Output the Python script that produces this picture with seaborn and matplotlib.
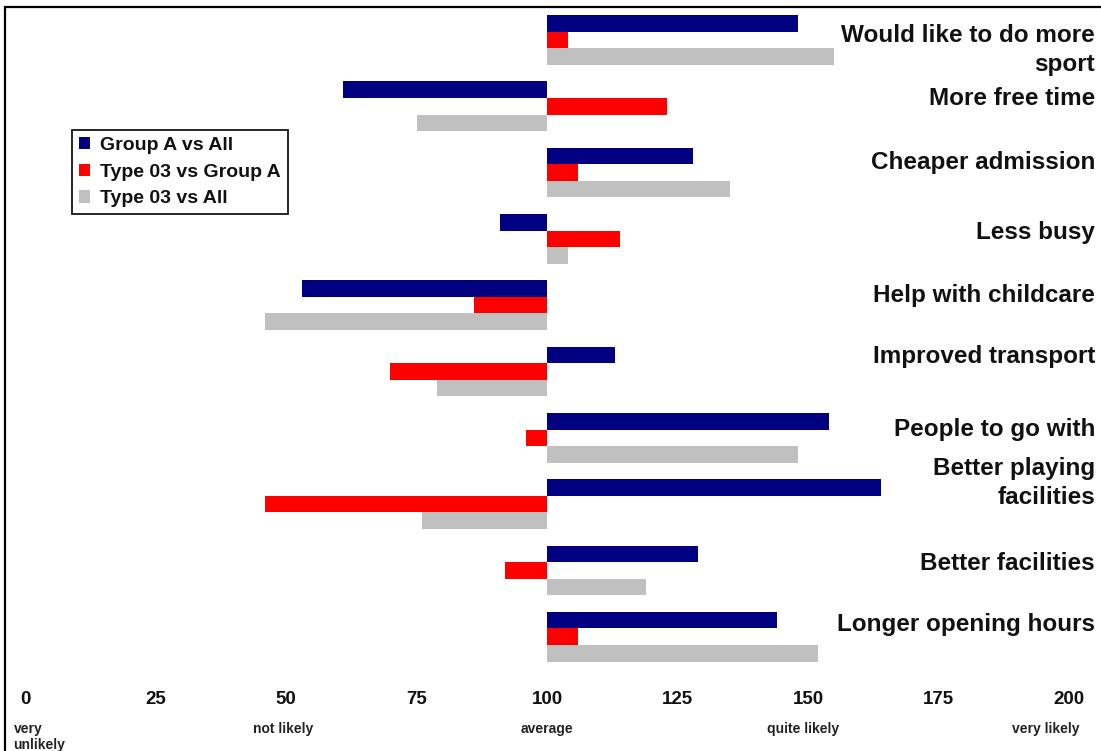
import matplotlib
matplotlib.use("Agg")
import matplotlib.pyplot as plt
import matplotlib.transforms as mtransforms
from matplotlib.lines import Line2D
from matplotlib.patches import Rectangle
import pandas as pd
import seaborn as sns

# ---- data -------------------------------------------------------------
categories = [
    "Would like to do more\nsport",
    "More free time",
    "Cheaper admission",
    "Less busy",
    "Help with childcare",
    "Improved transport",
    "People to go with",
    "Better playing\nfacilities",
    "Better facilities",
    "Longer opening hours",
]
series_names = ["Group A vs All", "Type 03 vs Group A", "Type 03 vs All"]
group_a_vs_all = [148, 61, 128, 91, 53, 113, 154, 164, 129, 144]
type03_vs_group_a = [104, 123, 106, 114, 86, 70, 96, 46, 92, 106]
type03_vs_all = [155, 75, 135, 104, 46, 79, 148, 76, 119, 152]

x_ticks = [0, 25, 50, 75, 100, 125, 150, 175, 200]
likelihood_labels = ["very\nunlikely", "not likely", "average", "quite likely", "very likely"]
likelihood_at = [0, 50, 100, 150, 200]
baseline = 100

# ---- style ------------------------------------------------------------
colors = ["#000080", "#FF0000", "#C0C0C0"]
label_nudge = [0.15, -0.125, -0.145, -0.10, -0.14, -0.23, -0.12, -0.32, -0.10, -0.18]
likelihood_x = [-2.2, 49.5, 100, 149, 195.5]
likelihood_ha = ["left", "center", "center", "center", "center"]

sns.set_style("white")
plt.rcParams["font.family"] = ["Liberation Sans", "DejaVu Sans"]

W, H = 1101, 751
fig = plt.figure(figsize=(W / 100, H / 100), dpi=100)
fig.patch.set_facecolor("white")

ax_left, ax_right = 25, 1069
ax_top, ax_bottom = 6.85, 669.85
ax = fig.add_axes([ax_left / W, 1 - ax_bottom / H,
                   (ax_right - ax_left) / W, (ax_bottom - ax_top) / H])

df = pd.DataFrame({
    "category": categories * 3,
    "series": [s for s in series_names for _ in categories],
    "score": group_a_vs_all + type03_vs_group_a + type03_vs_all,
})
df["delta"] = df["score"] - baseline

# bars grow from the "average" line at 100
sns.barplot(
    data=df, x="delta", y="category", hue="series",
    order=categories, hue_order=series_names, palette=colors,
    orient="h", width=0.75, left=baseline, saturation=1,
    errorbar=None, linewidth=0, legend=False, ax=ax,
)

ax.set_xlim(0, 200)
ax.set_ylim(len(categories) - 0.5, -0.5)
for sp in ax.spines.values():
    sp.set_visible(False)
ax.set_xlabel("")
ax.set_ylabel("")
ax.set_yticks([])
ax.set_xticks(x_ticks)
ax.set_xticklabels([str(t) for t in x_ticks], fontsize=13.5, fontweight="bold")
ax.tick_params(axis="x", length=0, pad=15, colors="#111111")

# category labels on the right-hand side
for i, (name, dy) in enumerate(zip(categories, label_nudge)):
    ax.text(205, i + dy, name, ha="right", va="center", multialignment="right",
            fontsize=17.5, fontweight="bold", color="#111111", linespacing=1.3,
            clip_on=False)

# likelihood descriptions under the scale
trans = mtransforms.blended_transform_factory(ax.transData, ax.transAxes)
for txt, xv, ha in zip(likelihood_labels, likelihood_x, likelihood_ha):
    ax.text(xv, -0.079, txt, transform=trans, ha=ha, va="top",
            fontsize=10, fontweight="bold", color="#222222",
            linespacing=1.15, clip_on=False)

# legend
handles = [Rectangle((0, 0), 1, 1, facecolor=c, edgecolor="none") for c in colors]
leg = fig.legend(
    handles, series_names, loc="upper left",
    bbox_to_anchor=(72 / W, 1 - 130 / H), bbox_transform=fig.transFigure,
    prop={"size": 14, "weight": "bold"}, frameon=True, fancybox=False,
    framealpha=1, edgecolor="black", handlelength=0.6, handleheight=0.6,
    handletextpad=0.5, labelspacing=0.5, borderpad=0.35, borderaxespad=0,
)
leg.get_frame().set_linewidth(1.2)
for t in leg.get_texts():
    t.set_color("#111111")

# outer frame (left and top edges)
fx, fy = 4.7 / W, 1 - 7.3 / H
fig.add_artist(Line2D([fx, fx], [0, fy], transform=fig.transFigure,
                      color="black", lw=1.6))
fig.add_artist(Line2D([fx, 1], [fy, fy], transform=fig.transFigure,
                      color="black", lw=1.6))

fig.savefig("out.png", dpi=100)
